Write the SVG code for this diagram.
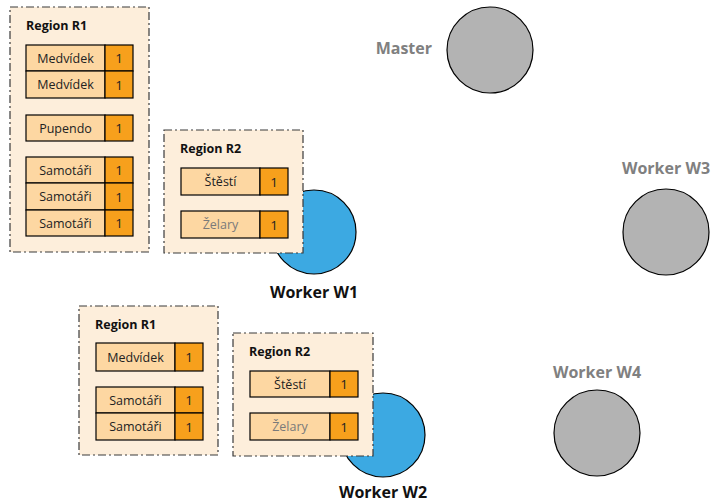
<svg xmlns="http://www.w3.org/2000/svg" width="714" height="502" viewBox="0 0 714 502">
<style>
.bg{fill:#fff}
.srv{fill:#b3b3b3;stroke:#000;stroke-width:1.2}
.wk{fill:#3ca9e2;stroke:#000;stroke-width:1.2}
.reg{fill:#fdeedb;stroke:#3a3a3a;stroke-width:1.2;stroke-dasharray:8 3 2 3}
.lab{fill:#fdd7a2;stroke:#000;stroke-width:1.2}
.num{fill:#f7a01c;stroke:#000;stroke-width:1.2}
.t{font-family:"Open Sans","Liberation Sans",sans-serif;font-size:12.5px;fill:#222;text-anchor:middle}
.tn{font-size:13.5px}
.tg{fill:#7a7a7a}
.title{font-family:"Open Sans","Liberation Sans",sans-serif;font-size:12.5px;font-weight:bold;fill:#111}
.nl{font-family:"Open Sans","Liberation Sans",sans-serif;font-size:16px;font-weight:bold;fill:#808080}
.nb{font-family:"Open Sans","Liberation Sans",sans-serif;font-size:16px;font-weight:bold;fill:#111}
</style>
<rect class="bg" x="0" y="0" width="714" height="502"/>
<g id="connectors"></g>
<g id="master">
<circle class="srv" cx="490" cy="50" r="43"/>
<text class="nl" x="432" y="54" text-anchor="end">Master</text>
</g>
<g id="worker-w3">
<circle class="srv" cx="666" cy="232" r="43"/>
<text class="nl" x="666" y="174" text-anchor="middle">Worker W3</text>
</g>
<g id="worker-w4">
<circle class="srv" cx="597" cy="433" r="43"/>
<text class="nl" x="597" y="378" text-anchor="middle">Worker W4</text>
</g>
<g id="worker-w1">
<circle class="wk" cx="314" cy="232" r="42"/>
<text class="nb" x="314" y="298" text-anchor="middle">Worker W1</text>
</g>
<g id="worker-w2">
<circle class="wk" cx="383" cy="435" r="42"/>
<text class="nb" x="383" y="498" text-anchor="middle">Worker W2</text>
</g>
<g id="w1-region-r1">
<rect class="reg" x="10" y="7" width="139" height="245"/>
<text class="title" x="26" y="30">Region R1</text>
<rect class="lab" x="26" y="45" width="79" height="26"/><rect class="num" x="105" y="45" width="28" height="26"/>
<text class="t" x="65.5" y="62.5">Medvídek</text><text class="t tn" x="119" y="63">1</text>
<rect class="lab" x="26" y="71" width="79" height="27"/><rect class="num" x="105" y="71" width="28" height="27"/>
<text class="t" x="65.5" y="89">Medvídek</text><text class="t tn" x="119" y="89.5">1</text>
<rect class="lab" x="26" y="115" width="79" height="26"/><rect class="num" x="105" y="115" width="28" height="26"/>
<text class="t" x="65.5" y="132.5">Pupendo</text><text class="t tn" x="119" y="133">1</text>
<rect class="lab" x="26" y="157" width="79" height="26"/><rect class="num" x="105" y="157" width="28" height="26"/>
<text class="t" x="65.5" y="174.5">Samotáři</text><text class="t tn" x="119" y="175">1</text>
<rect class="lab" x="26" y="183" width="79" height="27"/><rect class="num" x="105" y="183" width="28" height="27"/>
<text class="t" x="65.5" y="201">Samotáři</text><text class="t tn" x="119" y="201.5">1</text>
<rect class="lab" x="26" y="210" width="79" height="26"/><rect class="num" x="105" y="210" width="28" height="26"/>
<text class="t" x="65.5" y="227.5">Samotáři</text><text class="t tn" x="119" y="228">1</text>
</g>
<g id="w1-region-r2">
<rect class="reg" x="164" y="130" width="139" height="123"/>
<text class="title" x="180" y="153">Region R2</text>
<rect class="lab" x="181" y="168" width="79" height="27"/><rect class="num" x="260" y="168" width="28" height="27"/>
<text class="t" x="220.5" y="186">Štěstí</text><text class="t tn" x="274" y="186.5">1</text>
<rect class="lab" x="181" y="211" width="79" height="27"/><rect class="num" x="260" y="211" width="28" height="27"/>
<text class="t tg" x="220.5" y="229">Želary</text><text class="t tn" x="274" y="229.5">1</text>
</g>
<g id="w2-region-r1">
<rect class="reg" x="79" y="306" width="139" height="149"/>
<text class="title" x="95" y="329">Region R1</text>
<rect class="lab" x="96" y="343" width="79" height="28"/><rect class="num" x="175" y="343" width="28" height="28"/>
<text class="t" x="135.5" y="361.5">Medvídek</text><text class="t tn" x="189" y="362">1</text>
<rect class="lab" x="96" y="387" width="79" height="26"/><rect class="num" x="175" y="387" width="28" height="26"/>
<text class="t" x="135.5" y="404.5">Samotáři</text><text class="t tn" x="189" y="405">1</text>
<rect class="lab" x="96" y="413" width="79" height="27"/><rect class="num" x="175" y="413" width="28" height="27"/>
<text class="t" x="135.5" y="431">Samotáři</text><text class="t tn" x="189" y="431.5">1</text>
</g>
<g id="w2-region-r2">
<rect class="reg" x="233" y="333" width="140" height="123"/>
<text class="title" x="249" y="356">Region R2</text>
<rect class="lab" x="250" y="371" width="80" height="26"/><rect class="num" x="330" y="371" width="28" height="26"/>
<text class="t" x="290" y="388.5">Štěstí</text><text class="t tn" x="344" y="389">1</text>
<rect class="lab" x="250" y="413" width="80" height="27"/><rect class="num" x="330" y="413" width="28" height="27"/>
<text class="t tg" x="290" y="431">Želary</text><text class="t tn" x="344" y="431.5">1</text>
</g>
</svg>
